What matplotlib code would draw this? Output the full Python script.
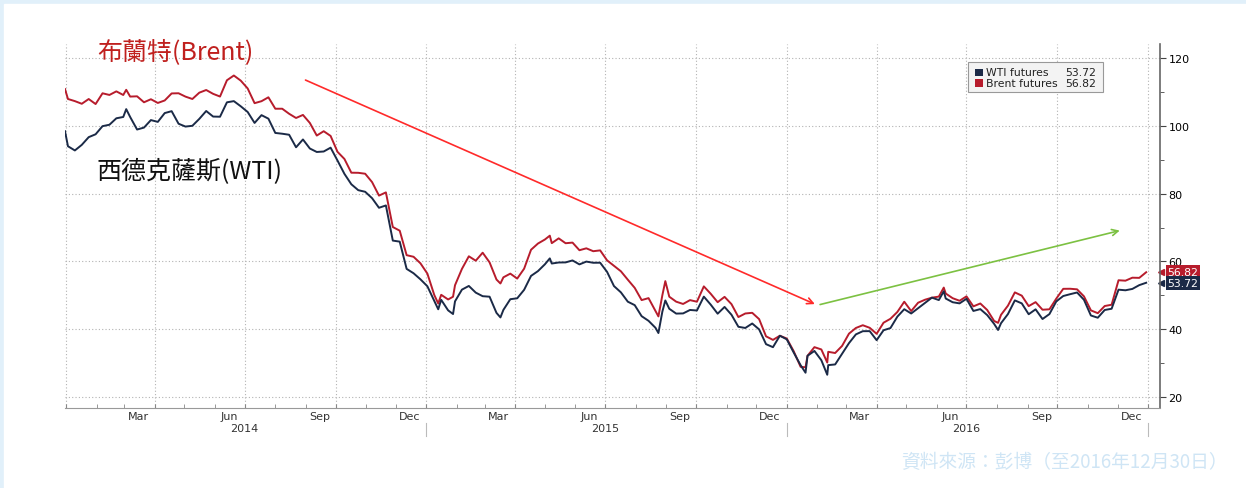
import pandas as pd
import matplotlib
matplotlib.use('Agg')
import matplotlib.pyplot as plt
import matplotlib.dates as mdates
import matplotlib.transforms as mtransforms
from matplotlib.patches import Rectangle
from matplotlib.ticker import MultipleLocator

CJK = ['Noto Sans CJK TC', 'DejaVu Sans']

# weekly (friday) closes, Jan 2014 - Dec 2016
wti_weekly = [
    93.96, 92.72, 94.37, 96.64, 97.49, 99.88, 100.30, 102.20, 102.59,
    102.58, 98.89, 99.46, 101.67, 101.14, 103.74, 104.30, 100.60,
    99.76, 99.99, 102.02, 104.35, 102.71, 102.66, 106.91, 107.26, 105.74,
    104.06, 100.83, 103.13, 102.09, 97.88, 97.65, 97.35, 93.65, 95.96,
    93.29, 92.27, 92.41, 93.54, 89.74, 85.82, 82.75, 81.01, 80.54,
    78.65, 75.82, 76.51, 66.15, 65.84, 57.81, 56.52, 54.73,
    # 2015
    52.69, 48.36, 48.69, 45.59, 48.24, 51.69, 52.78, 50.81, 49.76,
    49.61, 44.84, 45.72, 48.87, 49.14, 51.64, 55.74, 57.15,
    59.15, 59.39, 59.69, 59.72, 60.30, 59.13, 59.96, 59.61, 59.63,
    56.93, 52.74, 50.89, 48.14, 47.12, 43.87, 42.50, 40.45, 45.22,
    46.05, 44.63, 44.68, 45.70, 45.54, 49.63, 47.26, 44.60, 46.59,
    44.29, 40.74, 40.39, 41.71, 39.97, 35.62, 34.73, 38.10,
    # 2016
    37.04, 33.16, 29.42, 32.19, 33.62, 30.89, 29.44, 29.64, 32.78,
    35.92, 38.50, 39.44, 39.46, 36.79, 39.72, 40.36, 43.73, 45.92,
    44.66, 46.21, 47.75, 49.33, 48.62, 49.07, 47.98, 47.64,
    48.99, 45.41, 45.95, 44.19, 41.60, 41.80, 44.49, 48.52, 47.64,
    44.44, 45.88, 43.03, 44.48, 48.24, 49.81, 50.35, 50.85, 48.70,
    44.07, 43.41, 45.69, 46.06, 51.68, 51.50, 51.90, 53.02, 53.72,
]
brent_weekly = [
    107.89, 107.26, 106.48, 107.88, 106.40, 109.57, 109.08, 110.14, 109.07,
    108.60, 108.68, 106.92, 107.82, 106.72, 107.46, 109.53, 109.58,
    108.59, 107.89, 109.75, 110.54, 109.41, 108.61, 113.41, 114.81, 113.30,
    111.00, 106.66, 107.24, 108.39, 105.02, 105.02, 103.53, 102.29, 103.19,
    100.82, 97.11, 98.39, 97.00, 92.31, 90.21, 86.16, 86.13, 85.86,
    83.39, 79.41, 80.36, 70.15, 69.07, 61.85, 61.38, 59.45,
    # 2015
    56.42, 50.11, 50.17, 48.79, 52.99, 57.80, 61.52, 60.22, 62.58,
    59.73, 54.67, 55.32, 56.41, 54.95, 57.87, 63.45, 65.28,
    66.46, 65.39, 66.81, 65.37, 65.56, 63.31, 63.87, 63.02, 63.26,
    60.32, 58.73, 57.10, 54.62, 52.21, 48.61, 49.19, 45.46, 50.05,
    49.61, 48.14, 47.47, 48.60, 48.13, 52.65, 50.46, 47.99, 49.56,
    47.42, 43.61, 44.66, 44.86, 43.00, 37.93, 36.88, 38.10,
    # 2016
    37.28, 33.55, 28.94, 32.18, 34.74, 34.06, 33.36, 33.01, 35.10,
    38.72, 40.39, 41.20, 40.44, 38.67, 41.94, 43.10, 45.11, 48.13,
    45.37, 47.83, 48.72, 49.32, 49.64, 50.54, 49.17, 48.41,
    49.71, 46.76, 47.61, 45.69, 42.46, 44.27, 46.97, 50.88, 49.92,
    46.83, 48.01, 45.77, 45.89, 49.06, 51.93, 51.95, 51.78, 49.71,
    45.58, 44.75, 46.86, 47.24, 54.46, 54.33, 55.21, 55.16, 56.82,
]
# intraweek highs / lows that the weekly closes miss
extra_dates = ['2013-12-31', '2014-03-03', '2015-01-13', '2015-01-28', '2015-03-17',
               '2015-05-06', '2015-08-24', '2015-08-31', '2016-01-20', '2016-02-11',
               '2016-06-08', '2016-08-02']
wti_extra = [98.4, 104.9, 45.9, 44.5, 43.5, 60.9, 38.9, 48.5, 27.2, 26.6, 51.2, 39.8]
brent_extra = [110.8, 110.6, 47.6, 49.6, 53.5, 67.6, 43.8, 54.2, 28.8, 30.2, 52.3, 41.9]

month_names = ['Mar', 'Jun', 'Sep', 'Dec']
years = [2014, 2015, 2016]

weekly = pd.DataFrame({'wti': wti_weekly, 'brent': brent_weekly},
                      index=pd.date_range('2014-01-03', periods=len(wti_weekly), freq='W-FRI'))
extra = pd.DataFrame({'wti': wti_extra, 'brent': brent_extra}, index=pd.to_datetime(extra_dates))
df = pd.concat([weekly, extra]).sort_index()

WTI_COL = '#1b2a47'
BRENT_COL = '#b71c2c'

fig = plt.figure(figsize=(12.46, 4.89), dpi=100)
# light blue slide border
fig.patches.append(Rectangle((0, 0), 1, 1, transform=fig.transFigure, color='#e1f0fa', zorder=-2))
fig.patches.append(Rectangle((4 / 1246, 0), 1, 1 - 5 / 489, transform=fig.transFigure,
                             color='white', zorder=-1))

ax = fig.add_axes([65 / 1246, 1 - 409 / 489, 1095 / 1246, 364 / 489])
ax.set_facecolor('none')
ax.plot(df.index, df['wti'], color=WTI_COL, lw=1.4, zorder=3)
ax.plot(df.index, df['brent'], color=BRENT_COL, lw=1.4, zorder=2)

ax.set_xlim(pd.Timestamp('2013-12-31'), pd.Timestamp('2017-01-13'))
ax.set_ylim(16.8, 124.1)

ax.xaxis.set_major_locator(mdates.MonthLocator(bymonth=[1, 4, 7, 10]))
ax.xaxis.set_minor_locator(mdates.MonthLocator())
ax.tick_params(axis='x', which='both', direction='in', length=3, color='#888', labelbottom=False)

ax.yaxis.tick_right()
ax.yaxis.set_major_locator(MultipleLocator(20))
ax.yaxis.set_minor_locator(MultipleLocator(10))
ax.tick_params(axis='y', which='major', direction='out', length=4, pad=2, labelsize=8, color='#444')
ax.tick_params(axis='y', which='minor', direction='out', length=3, color='#444')
ax.grid(True, which='major', linestyle=(0, (1, 2)), color='#b3b3b3', lw=0.8)

for s in ['left', 'top']:
    ax.spines[s].set_visible(False)
ax.spines['right'].set_color('#666')
ax.spines['right'].set_linewidth(1.2)
ax.spines['bottom'].set_color('#999')
ax.spines['bottom'].set_linewidth(0.8)

# month / year labels under the axis
trans = mtransforms.blended_transform_factory(ax.transData, ax.transAxes)
for y in years:
    for i, m in enumerate(month_names):
        ax.text(pd.Timestamp(y, 3 * i + 3, 15), -0.022, m, transform=trans,
                ha='center', va='center', fontsize=8, color='#333')
    ax.text(pd.Timestamp(y, 7, 1), -0.055, str(y), transform=trans,
            ha='center', va='center', fontsize=8, color='#333')
    sep = pd.Timestamp(y + 1, 1, 1)
    ax.plot([sep, sep], [-0.041, -0.077], transform=trans, color='#bbb', lw=0.8, clip_on=False)

# last value tags on the right axis
ytrans = mtransforms.blended_transform_factory(ax.transAxes, ax.transData)
for val, col in [(df['brent'].iloc[-1], BRENT_COL), (df['wti'].iloc[-1], WTI_COL)]:
    ax.text(1.021, val, f'{val:.2f}', transform=ytrans, ha='center', va='center',
            fontsize=7.8, color='white', clip_on=False,
            bbox=dict(boxstyle='square,pad=0.18', fc=col, ec='none'))
    ax.plot([1.0005], [val], marker='<', ms=5, color=col, transform=ytrans, clip_on=False)

# legend box
ax.add_patch(Rectangle((0.8247, 0.867), 0.1233, 0.084, transform=ax.transAxes,
                       fc='#f3f3f3', ec='#999', lw=0.8, zorder=5))
for yy, name, val, col in [(0.922, 'WTI futures', df['wti'].iloc[-1], WTI_COL),
                           (0.894, 'Brent futures', df['brent'].iloc[-1], BRENT_COL)]:
    ax.add_patch(Rectangle((0.8315, yy - 0.011), 0.0065, 0.021, transform=ax.transAxes,
                           fc=col, ec='none', zorder=6))
    ax.text(0.8412, yy, name, transform=ax.transAxes, fontsize=7.8, va='center', color='#222', zorder=6)
    ax.text(0.9416, yy, f'{val:.2f}', transform=ax.transAxes, fontsize=7.8, va='center',
            ha='right', color='#222', zorder=6)

# trend arrows
turn = (pd.Timestamp('2016-02-01'), 47.1)
ax.annotate('', xy=turn, xytext=(pd.Timestamp('2014-08-29'), 113.8),
            arrowprops=dict(arrowstyle='->', color='#ff2a2a', lw=1.2, mutation_scale=11))
ax.annotate('', xy=(pd.Timestamp('2016-12-06'), 69.3), xytext=turn,
            arrowprops=dict(arrowstyle='->', color='#7cc142', lw=1.2, mutation_scale=11))

ax.text(0.0292, 0.981, '布蘭特(Brent)', transform=ax.transAxes, fontsize=18,
        color='#c0201e', va='center', family=CJK)
ax.text(0.0292, 0.651, '西德克薩斯(WTI)', transform=ax.transAxes, fontsize=18,
        color='#111', va='center', family=CJK)

fig.text(1228 / 1246, 1 - 463 / 489, '資料來源：彭博（至2016年12月30日）', ha='right', va='center',
         fontsize=13.5, color='#cfe5f5', family=CJK)

fig.savefig('out.png', dpi=100)
